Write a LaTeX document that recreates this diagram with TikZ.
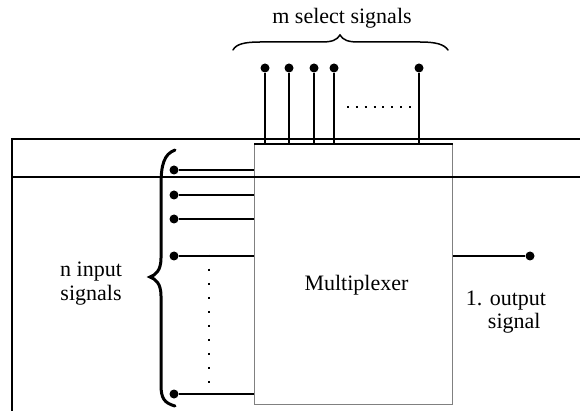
\documentclass[tikz,border=0pt]{standalone}
\usepackage{fontspec}
\setmainfont{Liberation Serif}
\begin{document}
\begin{tikzpicture}[x=1pt,y=-1pt,
  dot/.style={circle,fill=black,inner sep=0pt,minimum size=9pt},
  wire/.style={line width=1.8pt},
  bus/.style={line width=2.2pt},
  lbl/.style={font=\fontsize{22}{23.5}\selectfont, inner sep=0pt, align=center},
  brc/.style={line width=3pt, line cap=round},
  dotsv/.style={line width=2.5pt, dash pattern=on 2.5pt off 11.5pt},
  dotsh/.style={line width=2pt, dash pattern=on 2pt off 6.86pt},
]
\useasboundingbox (0,0) rectangle (580,411);
% box
\node[draw=gray, line width=0.8pt, minimum width=198pt, minimum height=260pt, inner sep=0pt, anchor=north west] (mux) at (254,144) {};
\node[lbl, anchor=base] (mtxt) at (356.5,290) {Multiplexer};
% buses
\coordinate (b1l) at (12,139);
\coordinate (b1r) at (580,139);
\coordinate (b2l) at (12,177);
\coordinate (b2r) at (580,177);
\coordinate (vb) at (12,412);
\draw[bus] (b1r) -- (b1l) -- (vb);
\draw[line width=2.6pt] (b2l) -- (b2r);
\draw[bus] (mux.north west) -- (mux.north east);
% input dots
\node[dot] (i1) at (174,170) {};
\node[dot] (i2) at (174,195) {};
\node[dot] (i3) at (174,219) {};
\node[dot] (i4) at (174,256) {};
\node[dot] (i5) at (174,394) {};
\foreach \n in {i1,i2,i3,i4,i5} \draw[wire] (\n) -- (\n -| mux.west);
% vertical dots
\coordinate (dv1) at (209,254.75);
\coordinate (dv2) at (209,383.5);
\draw[dotsv] (dv1) -- (dv2);
% select dots
\node[dot] (s1) at (265,68) {};
\node[dot] (s2) at (289,68) {};
\node[dot] (s3) at (314,68) {};
\node[dot] (s4) at (334,68) {};
\node[dot] (s5) at (419,68) {};
\foreach \n in {s1,s2,s3,s4,s5} \draw[wire] (\n) -- (\n |- mux.north);
% horizontal dots
\coordinate (dh1) at (347,107);
\coordinate (dh2) at (412,107);
\draw[dotsh] (dh1) -- (dh2);
% output
\node[dot] (o) at (530,256) {};
\draw[wire] (o -| mux.east) -- (o);
% braces
\draw[brc] (175,150) .. controls (164,154) and (161,165) .. (161,185) -- (161,258)
  .. controls (161,270) and (156,275) .. (150,277)
  .. controls (156,279) and (161,284) .. (161,296) -- (161,385)
  .. controls (161,398) and (164,403) .. (175,406);
\draw[line width=1.5pt, line cap=round] (233,50) .. controls (236,44) and (245,42) .. (260,42) -- (322,42)
  .. controls (332,42) and (337,40) .. (340,35)
  .. controls (343,40) and (348,42) .. (358,42) -- (420,42)
  .. controls (435,42) and (444,44) .. (448,50);
% labels
\node[lbl, anchor=base] (msel) at (342,24) {m select signals};
\node[lbl] (nin) at (91,283.5) {n input\\signals};
\node[lbl] (out) at (506,312) {1. output\\\hphantom{1.}signal};
\end{tikzpicture}
\end{document}
